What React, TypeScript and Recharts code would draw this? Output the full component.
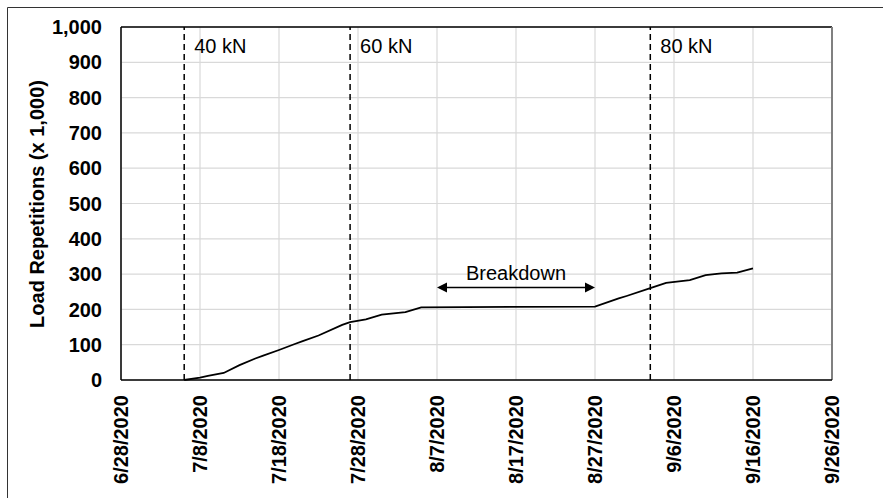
import { LineChart, Line, XAxis, YAxis, CartesianGrid, ReferenceLine, Customized } from 'recharts'

const FONT = '"Liberation Sans", Arial, sans-serif'

const day = (s: string) => Date.parse(s + 'T00:00:00Z')

// readings (date, load repetitions x 1000)
const dates = [
  '2020-07-06', '2020-07-08', '2020-07-09', '2020-07-11', '2020-07-13', '2020-07-15',
  '2020-07-16', '2020-07-18', '2020-07-20', '2020-07-21', '2020-07-23', '2020-07-26',
  '2020-07-27', '2020-07-29', '2020-07-31', '2020-08-03', '2020-08-05', '2020-08-27',
  '2020-08-30', '2020-08-31', '2020-09-03', '2020-09-05', '2020-09-08', '2020-09-10',
  '2020-09-12', '2020-09-14', '2020-09-16',
]
const reps = [
  0, 7, 12, 20, 42, 61,
  69, 85, 102, 110, 126, 156,
  164, 172, 185, 192, 206, 208,
  231, 238, 260, 275, 283, 297,
  302, 304, 316,
]

const xTicks = [
  '2020-06-28', '2020-07-08', '2020-07-18', '2020-07-28', '2020-08-07',
  '2020-08-17', '2020-08-27', '2020-09-06', '2020-09-16', '2020-09-26',
]
const yTicks = [0, 100, 200, 300, 400, 500, 600, 700, 800, 900, 1000]

const loadSteps = ['40 kN', '60 kN', '80 kN']
const loadStepDates = ['2020-07-06', '2020-07-27', '2020-09-03']

const breakdownFrom = '2020-08-07'
const breakdownTo = '2020-08-27'
const breakdownLevel = 262

const data = dates.map((d, i) => ({ t: day(d), reps: reps[i] }))
const xStart = day(xTicks[0])
const xEnd = day(xTicks[xTicks.length - 1])

const fmtDate = (t: number) => {
  const d = new Date(t)
  return `${d.getUTCMonth() + 1}/${d.getUTCDate()}/${d.getUTCFullYear()}`
}

function DateTick(props: any) {
  const { x, y, payload } = props
  const ty = y + 15
  return (
    <text
      x={x}
      y={ty}
      transform={`rotate(-90 ${x} ${ty})`}
      textAnchor="end"
      dominantBaseline="central"
      fontFamily={FONT}
      fontSize={20}
      fontWeight="bold"
      fill="#000"
    >
      {fmtDate(payload.value)}
    </text>
  )
}

function StepLabel(props: any) {
  const { viewBox, text } = props
  return (
    <text x={viewBox.x + 10} y={viewBox.y + 26} fontFamily={FONT} fontSize={20} fill="#000">
      {text}
    </text>
  )
}

function BreakdownArrow(props: any) {
  const { x1, y1, x2, y2 } = props
  const h = 5
  return (
    <g>
      <line x1={x1 + 8} y1={y1} x2={x2 - 8} y2={y2} stroke="#000" strokeWidth={1.3} />
      <polygon points={`${x1},${y1} ${x1 + 10},${y1 - h} ${x1 + 10},${y1 + h}`} fill="#000" />
      <polygon points={`${x2},${y2} ${x2 - 10},${y2 - h} ${x2 - 10},${y2 + h}`} fill="#000" />
      <text
        x={(x1 + x2) / 2}
        y={y1 - 8}
        textAnchor="middle"
        fontFamily={FONT}
        fontSize={20}
        fill="#000"
      >
        Breakdown
      </text>
    </g>
  )
}

const Decor = (
  <g>
    <line x1={7.5} y1={7.5} x2={883} y2={7.5} stroke="#333" strokeWidth={1} />
    <line x1={7.5} y1={7.5} x2={7.5} y2={498} stroke="#333" strokeWidth={1} />
    <text
      x={37}
      y={204}
      transform="rotate(-90 37 204)"
      textAnchor="middle"
      dominantBaseline="central"
      fontFamily={FONT}
      fontSize={20}
      fontWeight="bold"
      fill="#000"
    >
      Load Repetitions (x 1,000)
    </text>
  </g>
)

export default function App() {
  return (
    <div style={{ position: 'absolute', left: 0, top: 0, width: 883, height: 498, background: '#fff' }}>
      <LineChart
        width={883}
        height={498}
        data={data}
        margin={{ top: 27, right: 51, bottom: 18, left: 41 }}
      >
        <CartesianGrid stroke="#d9d9d9" strokeWidth={1.2} />
        <XAxis
          dataKey="t"
          type="number"
          domain={[xStart, xEnd]}
          ticks={xTicks.map(day)}
          tick={<DateTick />}
          tickLine={false}
          tickSize={0}
          tickMargin={0}
          height={100}
          interval={0}
          axisLine={{ stroke: '#000', strokeWidth: 1.5 }}
        />
        <YAxis
          type="number"
          domain={[0, 1000]}
          ticks={yTicks}
          tickFormatter={(v: number) => v.toLocaleString('en-US')}
          tick={{ fontFamily: FONT, fontSize: 20, fontWeight: 'bold', fill: '#000' }}
          tickLine={false}
          tickSize={0}
          tickMargin={19}
          width={80}
          interval={0}
          axisLine={{ stroke: '#000', strokeWidth: 1.5 }}
        />
        <ReferenceLine y={1000} stroke="#000" strokeWidth={1.5} />
        <ReferenceLine x={xEnd} stroke="#808080" strokeWidth={2} />
        {loadSteps.map((s, i) => (
          <ReferenceLine
            key={s}
            x={day(loadStepDates[i])}
            stroke="#000"
            strokeWidth={1.5}
            strokeDasharray="6 4"
            label={<StepLabel text={s} />}
          />
        ))}
        <ReferenceLine
          segment={[
            { x: day(breakdownFrom), y: breakdownLevel },
            { x: day(breakdownTo), y: breakdownLevel },
          ]}
          shape={<BreakdownArrow />}
        />
        <Line
          type="linear"
          dataKey="reps"
          stroke="#000"
          strokeWidth={1.8}
          dot={false}
          isAnimationActive={false}
        />
        <Customized component={Decor} />
      </LineChart>
    </div>
  )
}
